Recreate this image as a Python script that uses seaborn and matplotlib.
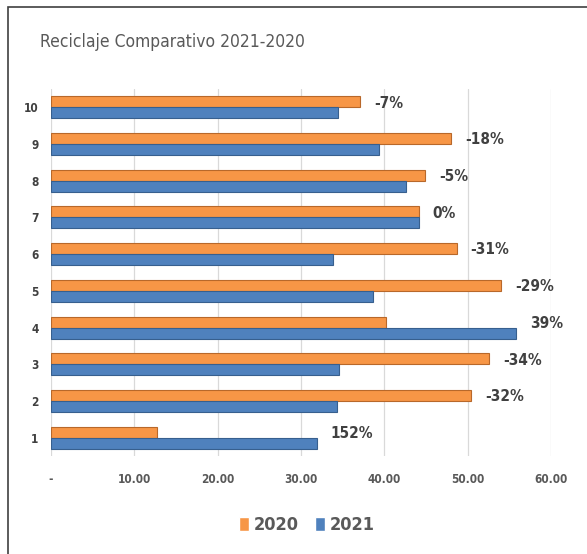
import pandas as pd
import seaborn as sns
import matplotlib.pyplot as plt
from matplotlib.patches import Patch, Rectangle

# Data
categories = ['1', '2', '3', '4', '5', '6', '7', '8', '9', '10']
vals_2020 = [12.7, 50.4, 52.6, 40.2, 54.0, 48.7, 44.1, 44.9, 48.0, 37.1]
vals_2021 = [31.9, 34.3, 34.6, 55.8, 38.6, 33.8, 44.1, 42.6, 39.4, 34.4]
pct_labels = ['152%', '-32%', '-34%', '39%', '-29%', '-31%', '0%', '-5%', '-18%', '-7%']
x_ticks = [0, 10, 20, 30, 40, 50, 60]
x_tick_labels = ['-', '10.00', '20.00', '30.00', '40.00', '50.00', '60.00']

df = pd.DataFrame({
    'cat': categories * 2,
    'value': vals_2020 + vals_2021,
    'year': ['2020'] * len(categories) + ['2021'] * len(categories),
})

sns.set_style('white')
plt.rcParams['font.family'] = ['DejaVu Sans']
plt.rcParams['font.stretch'] = 'condensed'

colors = {'2020': '#F79646', '2021': '#4F81BD'}
edges = {'2020': '#B8682A', '2021': '#375F8E'}

fig = plt.figure(figsize=(5.87, 5.54), dpi=100)
ax = fig.add_axes([51 / 587, 1 - 456 / 554, 500 / 587, (456 - 89) / 554])

order = categories[::-1]
sns.barplot(data=df, y='cat', x='value', hue='year', order=order,
            hue_order=['2020', '2021'], palette=colors, orient='h',
            width=0.6, saturation=1, ax=ax, legend=False, zorder=3)

for bars, yr in zip(ax.containers, ['2020', '2021']):
    for b in bars:
        b.set_edgecolor(edges[yr])
        b.set_linewidth(0.8)

ax.set_xlim(0, 60)
ax.set_xticks(x_ticks)
ax.set_xticklabels(x_tick_labels)
ax.grid(axis='x', color='#D9D9D9', linewidth=0.9, zorder=0)
ax.set_axisbelow(True)
for s in ax.spines.values():
    s.set_visible(False)
ax.set_xlabel('')
ax.set_ylabel('')
ax.tick_params(axis='x', length=0, pad=12, labelsize=8.5, labelcolor='#595959')
ax.tick_params(axis='y', length=0, pad=9, labelsize=8.5, labelcolor='#404040')
for t in ax.get_xticklabels() + ax.get_yticklabels():
    t.set_fontweight('bold')

# percent change labels beside the longer bar of each group
for i, cat in enumerate(categories):
    ypos = order.index(cat)
    xmax = max(vals_2020[i], vals_2021[i])
    ax.annotate(pct_labels[i], xy=(xmax, ypos), xytext=(10, 3),
                textcoords='offset points', ha='left', va='center',
                fontsize=11, fontweight='bold', color='#404040',
                annotation_clip=False)

fig.text(40 / 587, 1 - 42 / 554, 'Reciclaje Comparativo 2021-2020',
         fontsize=12.5, color='#595959', va='center', ha='left')

handles = [Patch(facecolor=colors['2020']), Patch(facecolor=colors['2021'])]
leg = fig.legend(handles, ['2020', '2021'], loc='center',
                 bbox_to_anchor=(307 / 587, 1 - 525 / 554), ncol=2,
                 frameon=False, handlelength=0.55, handleheight=0.85,
                 handletextpad=0.25, columnspacing=0.9,
                 prop={'size': 13, 'weight': 'bold', 'stretch': 'condensed'})
for t in leg.get_texts():
    t.set_color('#595959')

# chart area border
fig.patches.append(Rectangle((8 / 587, -0.05), 1.0, 1 - 7 / 554 + 0.05,
                             transform=fig.transFigure, fill=False,
                             edgecolor='#404040', linewidth=1.2))

fig.savefig('out.png', dpi=100)
